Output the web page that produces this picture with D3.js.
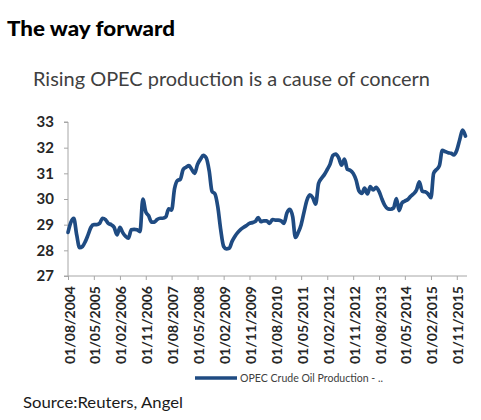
<!DOCTYPE html>
<html><head><meta charset="utf-8">
<script src="https://cdn.jsdelivr.net/npm/d3@7/dist/d3.min.js"></script>
<style>body{margin:0;background:#fff;} svg{display:block;}</style>
</head><body>
<script>
// Monthly OPEC crude oil production (mb/d), Aug 2004 .. Feb 2016
const startMonth = "2004-08";
const values = [
28.7,29.1,29.25,28.6,28.1,28.15,28.35,28.6,28.9,29.0,
29.0,29.05,29.25,29.2,29.05,29.0,28.9,28.6,28.9,28.7,
28.55,28.47,28.8,28.82,28.8,28.73,30.0,29.5,29.35,29.1,
29.1,29.2,29.25,29.25,29.3,29.62,29.57,30.4,30.72,30.77,
31.15,31.24,31.3,31.15,31.0,31.35,31.55,31.7,31.6,31.1,
30.3,30.2,29.7,28.8,28.15,28.06,28.08,28.35,28.55,28.7,
28.82,28.9,28.97,29.05,29.08,29.12,29.28,29.12,29.15,29.15,
29.05,29.2,29.18,29.18,29.15,29.05,29.45,29.6,29.3,28.5,
28.7,29.0,29.5,29.95,30.16,30.05,29.8,30.6,30.8,30.95,
31.15,31.35,31.7,31.75,31.6,31.32,31.55,31.15,31.12,31.0,
30.75,30.32,30.22,30.42,30.2,30.48,30.35,30.45,30.3,30.0,
29.75,29.62,29.6,29.65,30.02,29.55,29.85,29.92,29.98,30.1,
30.2,30.35,30.67,30.3,30.28,30.2,30.05,31.0,31.15,31.3,
31.9,31.85,31.8,31.78,31.72,31.9,32.3,32.68,32.45];
const yTicks = [27,28,29,30,31,32,33];
const xTickLabels = ["01/08/2004","01/05/2005","01/02/2006","01/11/2006","01/08/2007","01/05/2008","01/02/2009","01/11/2009","01/08/2010","01/05/2011","01/02/2012","01/11/2012","01/08/2013","01/05/2014","01/02/2015","01/11/2015"];
const seriesName = "OPEC Crude Oil Production - ..";
const title = "The way forward";
const subtitle = "Rising OPEC production is a cause of concern";
const source = "Source:Reuters, Angel";

const parseM = d3.timeParse("%Y-%m");
const parseD = d3.timeParse("%d/%m/%Y");
const t0 = parseM(startMonth);
const data = values.map((v,i)=>({date:d3.timeMonth.offset(t0,i), v}));

const W=481,H=420;
const svg=d3.select("body").append("svg").attr("width",W).attr("height",H);
const font="Lato, 'Open Sans', sans-serif";

const x=d3.scaleTime().domain([t0, data[data.length-1].date]).range([68,465.5]);
const y=d3.scaleLinear().domain([27,33]).range([276,122]);

svg.append("text").attr("x",7).attr("y",36).text(title)
  .attr("font-family",font).attr("font-weight","900").attr("font-size",20)
  .attr("fill","#000").attr("textLength",168).attr("lengthAdjust","spacingAndGlyphs");
svg.append("text").attr("x",33).attr("y",86).text(subtitle)
  .attr("font-family",font).attr("font-size",19).attr("fill","#404040")
  .attr("textLength",397).attr("lengthAdjust","spacingAndGlyphs");

// Y axis
const ya=svg.append("g").attr("transform","translate(68,0)")
  .call(d3.axisLeft(y).tickValues(yTicks).tickSize(4).tickPadding(10).tickFormat(d3.format("d")));
ya.select(".domain").attr("stroke","#a6a6a6").attr("d","M-4,"+y(33)+"H0V"+y(27)+"H-4");
ya.selectAll(".tick line").attr("stroke","#a6a6a6");
ya.selectAll(".tick text").attr("font-family",font).attr("font-size",15)
  .attr("fill","#262626").attr("font-weight","bold");

// X axis
const xTickDates=xTickLabels.map(parseD);
const xa=svg.append("g").attr("transform","translate(0,276)")
  .call(d3.axisBottom(x).tickValues(xTickDates).tickSize(4).tickFormat((d,i)=>xTickLabels[i]));
xa.select(".domain").attr("stroke","#a6a6a6").attr("d","M68,0H467");
xa.selectAll(".tick line").attr("stroke","#a6a6a6");
xa.selectAll(".tick text")
  .attr("font-family",font).attr("font-size",12.5).attr("font-weight","bold").attr("fill","#262626")
  .attr("text-anchor","end").attr("transform","translate(1.5,10) rotate(-90)")
  .attr("x",0).attr("y",0).attr("dy","0.36em")
  .attr("textLength",78).attr("lengthAdjust","spacingAndGlyphs");

// Line
const line=d3.line().x(d=>x(d.date)).y(d=>y(d.v)).curve(d3.curveMonotoneX);
svg.append("path").datum(data).attr("d",line).attr("fill","none")
  .attr("stroke","#1f4b82").attr("stroke-width",3.7).attr("stroke-linejoin","round").attr("stroke-linecap","round");

// Legend
svg.append("line").attr("x1",195).attr("x2",237).attr("y1",378).attr("y2",378)
  .attr("stroke","#1f4b82").attr("stroke-width",3.5);
svg.append("text").attr("x",240).attr("y",382).text(seriesName)
  .attr("font-family",font).attr("font-size",10.5).attr("fill","#404040")
  .attr("textLength",143).attr("lengthAdjust","spacingAndGlyphs");

svg.append("text").attr("x",23).attr("y",408).text(source)
  .attr("font-family",font).attr("font-size",16).attr("fill","#1a1a1a")
  .attr("textLength",160).attr("lengthAdjust","spacingAndGlyphs");
</script>
</body></html>
